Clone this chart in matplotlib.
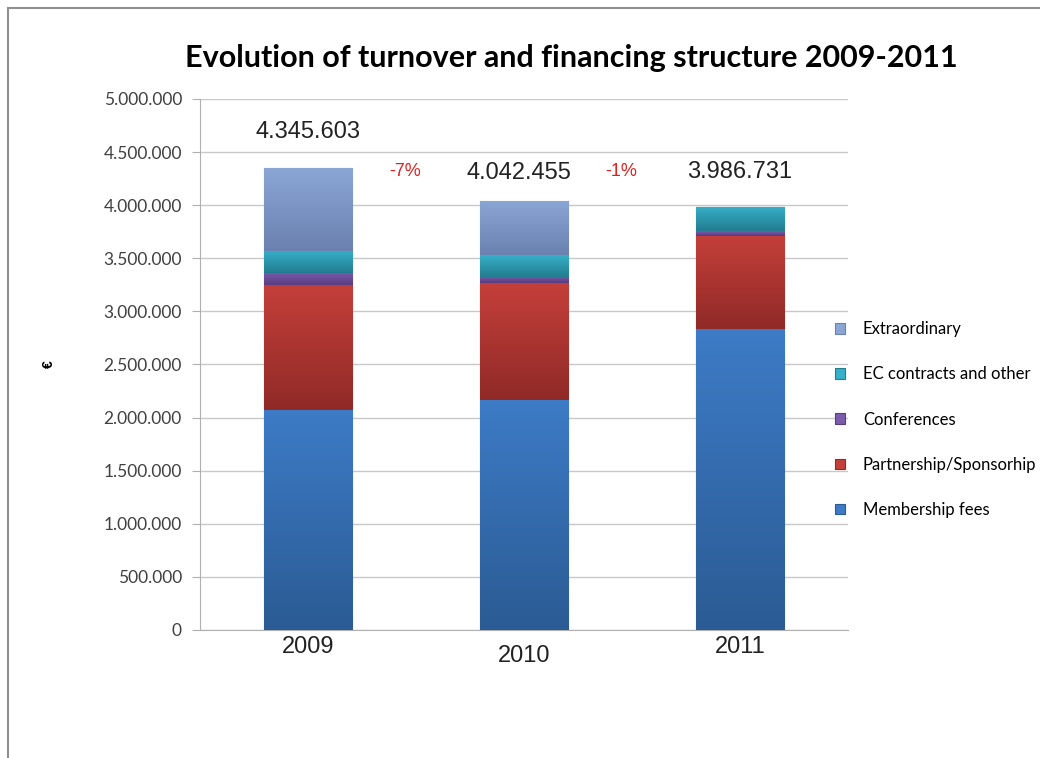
import matplotlib
matplotlib.use('Agg')
import matplotlib.pyplot as plt
import numpy as np
from matplotlib.lines import Line2D
from matplotlib.colors import LinearSegmentedColormap
from matplotlib.ticker import FuncFormatter

# ===== DATA =====
years = ['2009', '2010', '2011']
membership = [2070000, 2165000, 2834000]
partnership = [1180000, 1100000, 879000]
conferences = [115000, 62000, 44000]
ec_contracts = [208000, 204000, 229731]
extraordinary = [772603, 511455, 0]
totals = ['4.345.603', '4.042.455', '3.986.731']
changes = ['-7%', '-1%']

# (label, values, top colour, bottom colour)
series = [
    ('Membership fees', membership, '#3d7bc6', '#2b5b94'),
    ('Partnership/Sponsorhip', partnership, '#c43f3a', '#902a27'),
    ('Conferences', conferences, '#7b5bab', '#573c80'),
    ('EC contracts and other', ec_contracts, '#36b0c8', '#237d90'),
    ('Extraordinary', extraordinary, '#8ba5d5', '#6b82b0'),
]
# ===== DATA =====

calibri_like = ['Lato', 'DejaVu Sans']
arial_like = ['Liberation Sans', 'DejaVu Sans']

fig = plt.figure(figsize=(10.4, 7.58), dpi=100)
ax = fig.add_axes([0.1923, 0.1689, 0.6231, 0.7005])

x = np.arange(len(years))
width = 0.41
bottom = np.zeros(len(years))
handles = []
grad = np.linspace(0, 1, 64).reshape(-1, 1)
for name, vals, ctop, cbot in series:
    vals = np.array(vals, dtype=float)
    bars = ax.bar(x, vals, width, bottom=bottom, color=ctop, edgecolor=cbot,
                  linewidth=0.8, zorder=3, label=name)
    # vertical gradient inside every segment
    cmap = LinearSegmentedColormap.from_list(name, [cbot, ctop])
    for b, v, b0 in zip(bars, vals, bottom):
        if v <= 0:
            continue
        im = ax.imshow(grad, cmap=cmap, aspect='auto', origin='lower', zorder=3.5,
                       extent=[b.get_x(), b.get_x() + width, b0, b0 + v])
        im.set_clip_path(b)
    bottom += vals
    handles.append(bars)

ax.set_xlim(-0.5, 2.5)
ax.set_ylim(0, 5000000)
ax.set_yticks(np.arange(0, 5000001, 500000))
ax.yaxis.set_major_formatter(FuncFormatter(lambda v, p: f'{v:,.0f}'.replace(',', '.')))
ax.grid(axis='y', color='#c8c8c8', linewidth=1, zorder=0)
for s in ['top', 'right']:
    ax.spines[s].set_visible(False)
for s in ['left', 'bottom']:
    ax.spines[s].set_color('#b0b0b0')
ax.tick_params(axis='y', length=6, color='#b0b0b0', labelsize=12.5, labelcolor='#404040', pad=7)
for lab in ax.get_yticklabels():
    lab.set_family(calibri_like)
ax.set_xticks([])

# year labels (2010 sits a bit lower in the original)
year_offsets = [-12, -19, -12]
for i, yr in enumerate(years):
    ax.annotate(yr, (x[i], 0), xytext=(0, year_offsets[i]), textcoords='offset points',
                ha='center', va='center', fontsize=17, family=arial_like, color='#222222')

# total labels
tot_offsets = [(0, 26), (-4, 20), (0, 25)]
for i, t in enumerate(totals):
    ax.annotate(t, (x[i], bottom[i]), xytext=tot_offsets[i], textcoords='offset points',
                ha='center', va='center', fontsize=17, family=arial_like, color='#222222')

# change labels
for i, c in enumerate(changes):
    ax.text(x[i] + 0.45, 4320000, c, ha='center', va='center', fontsize=13,
            family=arial_like, color='#e02020')

ax.set_ylabel('€', fontsize=10, fontweight='bold', family=arial_like, labelpad=34)

fig.text(0.549, 0.923, 'Evolution of turnover and financing structure 2009-2011',
         ha='center', va='center', fontsize=22, fontweight='bold', family=calibri_like)

leg = fig.legend(handles[::-1], [s[0] for s in series][::-1], loc='upper left',
                 bbox_to_anchor=(0.788, 0.596), frameon=False,
                 handlelength=0.6, handleheight=0.6, handletextpad=1.1, labelspacing=1.75,
                 prop={'family': calibri_like, 'size': 12})
for h, s in zip(leg.legend_handles, series[::-1]):
    h.set_facecolor(s[2])
    h.set_edgecolor(s[3])

# outer border (only top and left visible)
fig.add_artist(Line2D([8 / 1040, 8 / 1040], [0, 1 - 8 / 758], color='#909090', lw=1.5))
fig.add_artist(Line2D([8 / 1040, 1], [1 - 8 / 758, 1 - 8 / 758], color='#909090', lw=1.5))

fig.savefig('out.png', dpi=100, facecolor='white')
